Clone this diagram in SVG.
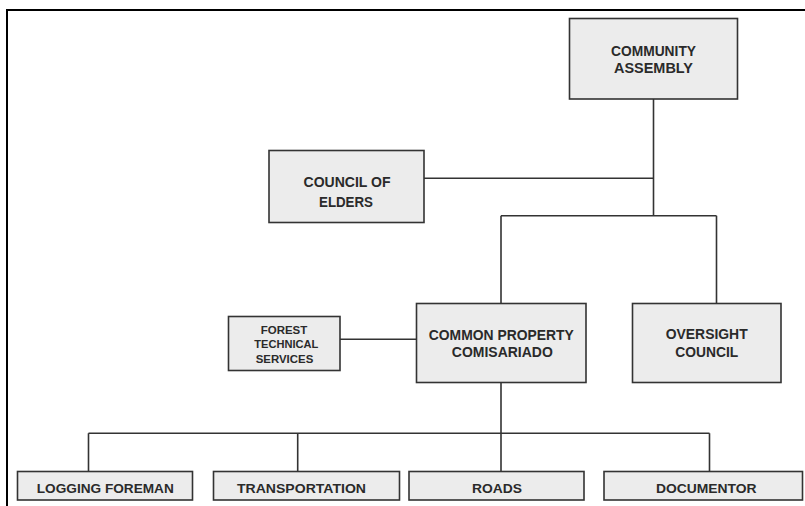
<svg xmlns="http://www.w3.org/2000/svg" width="805" height="506" viewBox="0 0 805 506">
<style>
.box{fill:#ececec;stroke:#333333;stroke-width:1.6}
.lbl{font-family:"Liberation Sans Narrow","Liberation Sans",Arial,sans-serif;font-weight:bold;fill:#2a2a2a;text-anchor:middle;font-size:14px}
.sm{font-size:11.5px}
.bt{font-size:13px}
.con{fill:none;stroke:#333333;stroke-width:1.6}
</style>
<rect x="0" y="0" width="805" height="506" fill="#ffffff"/>
<rect x="7" y="10" width="810" height="510" fill="none" stroke="#000" stroke-width="2"/>
<g id="connectors" class="con">
<path d="M653.5 99 V215.7"/>
<path d="M424 178.3 H653.5"/>
<path d="M501 215.7 H716.5 M501 215.7 V303.5 M716.5 215.7 V303.5"/>
<path d="M340 339.3 H416.5"/>
<path d="M501 382.5 V433.3"/>
<path d="M88.5 433.3 H709.5 M88.5 433.3 V471.5 M297.7 433.3 V471.5 M501 433.3 V471.5 M709.5 433.3 V471.5"/>
</g>
<g id="community-assembly">
<rect class="box" x="569.5" y="18.5" width="168" height="80.5"/>
<text class="lbl" x="653.5" y="55.7" textLength="85" lengthAdjust="spacingAndGlyphs">COMMUNITY</text>
<text class="lbl" x="653.5" y="73.3" textLength="79" lengthAdjust="spacingAndGlyphs">ASSEMBLY</text>
</g>
<g id="council-of-elders">
<rect class="box" x="269" y="150.5" width="155" height="72"/>
<text class="lbl" x="347" y="186.7" textLength="87" lengthAdjust="spacingAndGlyphs">COUNCIL OF</text>
<text class="lbl" x="346" y="206.7" textLength="54" lengthAdjust="spacingAndGlyphs">ELDERS</text>
</g>
<g id="forest-technical-services">
<rect class="box" x="228.5" y="316.5" width="111.5" height="54"/>
<text class="lbl sm" x="284" y="334.1" textLength="46.5" lengthAdjust="spacingAndGlyphs">FOREST</text>
<text class="lbl sm" x="286.3" y="347.5" textLength="64" lengthAdjust="spacingAndGlyphs">TECHNICAL</text>
<text class="lbl sm" x="284.5" y="363.1" textLength="57.5" lengthAdjust="spacingAndGlyphs">SERVICES</text>
</g>
<g id="common-property-comisariado">
<rect class="box" x="416.5" y="303.5" width="169.5" height="79"/>
<text class="lbl" x="501.3" y="340" textLength="145" lengthAdjust="spacingAndGlyphs">COMMON PROPERTY</text>
<text class="lbl" x="502.3" y="356.7" textLength="101" lengthAdjust="spacingAndGlyphs">COMISARIADO</text>
</g>
<g id="oversight-council">
<rect class="box" x="632.5" y="303.5" width="148.5" height="79"/>
<text class="lbl" x="706.7" y="339.3" textLength="82" lengthAdjust="spacingAndGlyphs">OVERSIGHT</text>
<text class="lbl" x="706.7" y="356.7" textLength="63" lengthAdjust="spacingAndGlyphs">COUNCIL</text>
</g>
<g id="logging-foreman">
<rect class="box" x="17.5" y="471.5" width="175" height="28.5"/>
<text class="lbl bt" x="105.3" y="493" textLength="137" lengthAdjust="spacingAndGlyphs">LOGGING FOREMAN</text>
</g>
<g id="transportation">
<rect class="box" x="213.5" y="471.5" width="186" height="28.5"/>
<text class="lbl bt" x="301.5" y="493" textLength="129" lengthAdjust="spacingAndGlyphs">TRANSPORTATION</text>
</g>
<g id="roads">
<rect class="box" x="409" y="471.5" width="175" height="28.5"/>
<text class="lbl bt" x="497" y="493" textLength="50" lengthAdjust="spacingAndGlyphs">ROADS</text>
</g>
<g id="documentor">
<rect class="box" x="604" y="471.5" width="198.5" height="28.5"/>
<text class="lbl bt" x="706.3" y="493" textLength="100.7" lengthAdjust="spacingAndGlyphs">DOCUMENTOR</text>
</g>
</svg>
